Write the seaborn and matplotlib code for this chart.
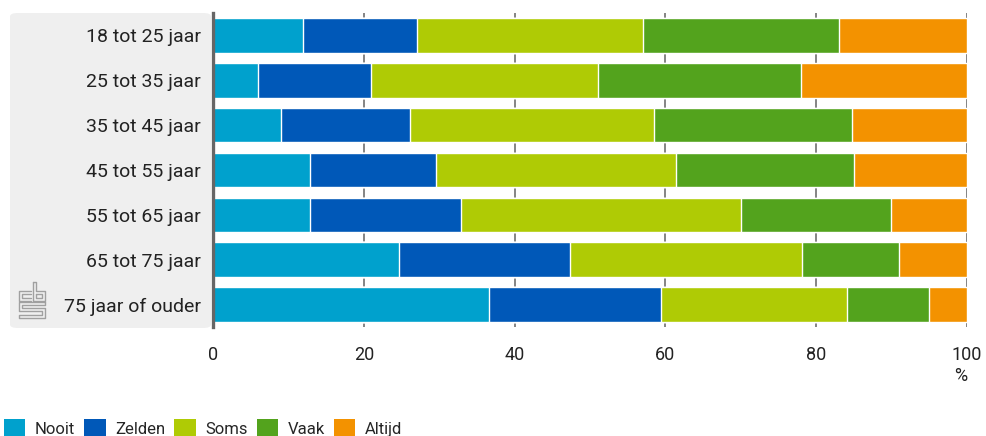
import numpy as np
import pandas as pd
import seaborn as sns
import matplotlib.pyplot as plt
from matplotlib.patches import FancyBboxPatch
from matplotlib.lines import Line2D

age_groups = ['18 tot 25 jaar', '25 tot 35 jaar', '35 tot 45 jaar', '45 tot 55 jaar',
              '55 tot 65 jaar', '65 tot 75 jaar', '75 jaar of ouder']
answers = ['Nooit', 'Zelden', 'Soms', 'Vaak', 'Altijd']
nooit = [12.0, 6.0, 9.0, 12.9, 12.9, 24.7, 36.6]
zelden = [15.0, 15.0, 17.1, 16.7, 20.0, 22.6, 22.8]
soms = [30.0, 30.0, 32.4, 31.8, 37.1, 30.8, 24.7]
vaak = [26.0, 27.0, 26.2, 23.6, 19.9, 12.9, 10.9]
altijd = [17.0, 22.0, 15.3, 15.0, 10.1, 9.0, 5.0]
colors = ['#00a1cd', '#0058b8', '#afcb05', '#53a31d', '#f39200']

sns.set_style('white')
plt.rcParams['font.family'] = ['Liberation Sans Narrow', 'Roboto', 'DejaVu Sans']

df = pd.DataFrame({'groep': age_groups, 'Nooit': nooit, 'Zelden': zelden,
                   'Soms': soms, 'Vaak': vaak, 'Altijd': altijd})
cum = df[answers].cumsum(axis=1)

W, H = 986, 436
fig = plt.figure(figsize=(W / 100, H / 100), dpi=100)

# grey label panel behind the category labels
panel = FancyBboxPatch((10 / W, (H - 328) / H), 201 / W, 315 / H,
                       boxstyle='round,pad=0,rounding_size=0.008',
                       transform=fig.transFigure, facecolor='#efefef',
                       edgecolor='none', zorder=-5)
fig.patches.append(panel)

ax = fig.add_axes([213 / W, (H - 327) / H, 754 / W, 314 / H])
ax.patch.set_alpha(0)

handles = []
for ans, col in reversed(list(zip(answers, colors))):
    sns.barplot(x=cum[ans], y=df['groep'], orient='h', color=col, width=0.77,
                edgecolor='white', linewidth=1, saturation=1, ax=ax, zorder=2)
    handles.append(plt.Rectangle((0, 0), 1, 1, facecolor=col, edgecolor='none', label=ans))
handles = handles[::-1]

ax.set_xlim(0, 100)
ax.set_ylim(6.5, -0.5)
ax.set_xticks([0, 20, 40, 60, 80, 100])
ax.set_xlabel('')
ax.set_ylabel('')
ax.xaxis.grid(True, color='#707070', linewidth=1.2)
ax.yaxis.grid(False)
ax.set_axisbelow(True)
for s in ['top', 'right', 'bottom']:
    ax.spines[s].set_visible(False)
ax.spines['left'].set_color('#666666')
ax.spines['left'].set_linewidth(2.4)
ax.spines['left'].set_zorder(5)
ax.tick_params(axis='y', length=0, pad=9, labelsize=14, labelcolor='#222222')
ax.tick_params(axis='x', length=0, pad=14, labelsize=13, labelcolor='#222222')

fig.text(961 / W, (H - 376) / H, '%', ha='center', va='center', fontsize=13, color='#222222')

# small cbs logo
lg = dict(color='#a0a0a0', linewidth=1.0, transform=fig.transFigure)
def px(xs, ys):
    return [x / W for x in xs], [(H - y) / H for y in ys]
for xs, ys in [
    ([31, 19, 19, 31], [291, 291, 301, 301]),
    ([31, 22, 22, 31], [294, 294, 298, 298]),
    ([33, 33, 45, 45, 36, 36, 33], [282, 301, 301, 291, 291, 282, 282]),
    ([36, 42, 42, 36, 36], [294, 294, 298, 298, 294]),
    ([45, 19, 19, 42, 42, 19, 19, 45, 45, 22, 22, 45, 45],
     [302, 302, 311, 311, 315, 315, 318, 318, 308, 308, 305, 305, 302]),
]:
    fig.add_artist(Line2D(*px(xs, ys), **lg))

fig.legend(handles=handles, labels=answers, loc='upper left',
           bbox_to_anchor=(-3 / W, (H - 412) / H), ncol=5, frameon=False,
           fontsize=12, handlelength=1.3, handleheight=1.5,
           handletextpad=0.55, columnspacing=0.55, borderaxespad=0)

fig.savefig('out.png', dpi=100)
